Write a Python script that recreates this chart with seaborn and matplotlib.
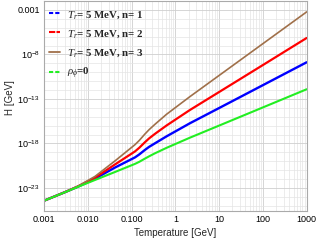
import numpy as np
import pandas as pd
import seaborn as sns
from matplotlib import pyplot as plt
from matplotlib import ticker
from matplotlib.lines import Line2D

# Temperature [GeV] and log10(H [GeV])
temperature = [0.001, 0.003, 0.006, 0.0146, 0.042, 0.12, 0.15, 0.2, 0.25, 0.34, 0.63, 2.15, 10, 100, 1000]
log_h_n1 = [-24.43, -23.47, -22.84, -21.95, -20.70, -19.56, -19.23, -18.74, -18.39, -17.99, -17.20, -15.73, -14.02, -11.45, -8.88]
log_h_n2 = [-24.43, -23.47, -22.82, -21.85, -20.35, -18.89, -18.48, -17.88, -17.44, -16.93, -15.98, -14.24, -12.22, -9.19, -6.15]
log_h_n3 = [-24.43, -23.46, -22.78, -21.70, -19.95, -18.13, -17.66, -16.96, -16.46, -15.86, -14.72, -12.74, -10.36, -6.79, -3.22]
log_h_rad = [-24.43, -23.48, -22.87, -22.10, -21.20, -20.29, -20.06, -19.71, -19.45, -19.11, -18.49, -17.35, -15.99, -13.95, -11.91]

labels = [r"$T_r$= 5 MeV, n= 1", r"$T_r$= 5 MeV, n= 2", r"$T_r$= 5 MeV, n= 3", r"$\rho_\phi$=0"]
colors = ["#0000ff", "#ff0000", "#a0704a", "#22ee22"]

rows = []
for lab, ys in zip(labels, [log_h_n1, log_h_n2, log_h_n3, log_h_rad]):
    for t, y in zip(temperature, ys):
        rows.append({"T": t, "H": 10.0 ** y, "curve": lab})
df = pd.DataFrame(rows)

sns.set_style("white")
plt.rcParams["font.family"] = ["Liberation Sans", "DejaVu Sans"]
plt.rcParams["mathtext.fontset"] = "custom"
plt.rcParams["mathtext.rm"] = "Liberation Sans"
plt.rcParams["mathtext.it"] = "Liberation Serif:italic"
plt.rcParams["mathtext.fallback"] = "stix"

fig = plt.figure(figsize=(3.18, 2.44), dpi=100)
ax = fig.add_axes([44 / 318, 1 - 210.7 / 244, 262.7 / 318, 209.7 / 244])

sns.lineplot(data=df, x="T", y="H", hue="curve", hue_order=labels,
             palette=dict(zip(labels, colors)), linewidth=1.5, legend=False, ax=ax)
for line, lw in zip(ax.lines, [1.7, 1.6, 1.2, 1.5]):
    line.set_linewidth(lw)

ax.set_xscale("log")
ax.set_yscale("log")
ax.set_xlim(1e-3, 1e3)
ax.set_ylim(10 ** -25.55, 1e-2)

ax.xaxis.set_major_locator(ticker.FixedLocator([1e-3, 1e-2, 1e-1, 1, 10, 100, 1000]))
ax.xaxis.set_major_formatter(ticker.FixedFormatter(["0.001", "0.010", "0.100", "1", "10", "100", "1000"]))
ax.xaxis.set_minor_locator(ticker.LogLocator(base=10, subs=np.arange(2, 10), numticks=20))
ax.xaxis.set_minor_formatter(ticker.NullFormatter())

ax.yaxis.set_major_locator(ticker.FixedLocator([1e-23, 1e-18, 1e-13, 1e-8, 1e-3]))
ax.yaxis.set_major_formatter(ticker.FixedFormatter([r"$\mathrm{10^{-23}}$", r"$\mathrm{10^{-18}}$",
                                                    r"$\mathrm{10^{-13}}$", r"$\mathrm{10^{-8}}$", "0.001"]))
ax.yaxis.set_minor_locator(ticker.FixedLocator([10.0 ** k for k in range(-25, -1)]))
ax.yaxis.set_minor_formatter(ticker.NullFormatter())

ax.grid(which="major", color="#cfcfcf", linewidth=0.6)
ax.grid(which="minor", color="#e4e4e4", linewidth=0.5)
ax.set_axisbelow(True)

ax.tick_params(which="both", direction="in", labelsize=6.5, colors="#888888", labelcolor="black")
ax.tick_params(which="major", length=3, width=0.6, pad=3)
ax.tick_params(which="minor", length=1.5, width=0.5)
for s in ax.spines.values():
    s.set_color("#aaaaaa")
    s.set_linewidth(0.8)

ax.set_xlabel("Temperature [GeV]", fontsize=7, labelpad=3)
ax.set_ylabel("H [GeV]", fontsize=7, labelpad=2)
ax.yaxis.set_label_coords(-0.112, 0.54)

handles = [
    Line2D([], [], color=colors[0], linewidth=1.5, dashes=(2, 1)),
    Line2D([], [], color=colors[1], linewidth=1.5, dashes=(3, 0.6)),
    Line2D([], [], color=colors[2], linewidth=1.3),
    Line2D([], [], color=colors[3], linewidth=1.5, dashes=(2, 1)),
]
ax.legend(handles, labels, loc="upper left", bbox_to_anchor=(0.0, 0.99), frameon=False,
          prop={"family": "Liberation Serif", "weight": "bold", "size": 7.8},
          handlelength=0.95, handletextpad=0.7, labelspacing=0.66, borderpad=0.3, borderaxespad=0.2)

fig.savefig("out.png", dpi=100)
